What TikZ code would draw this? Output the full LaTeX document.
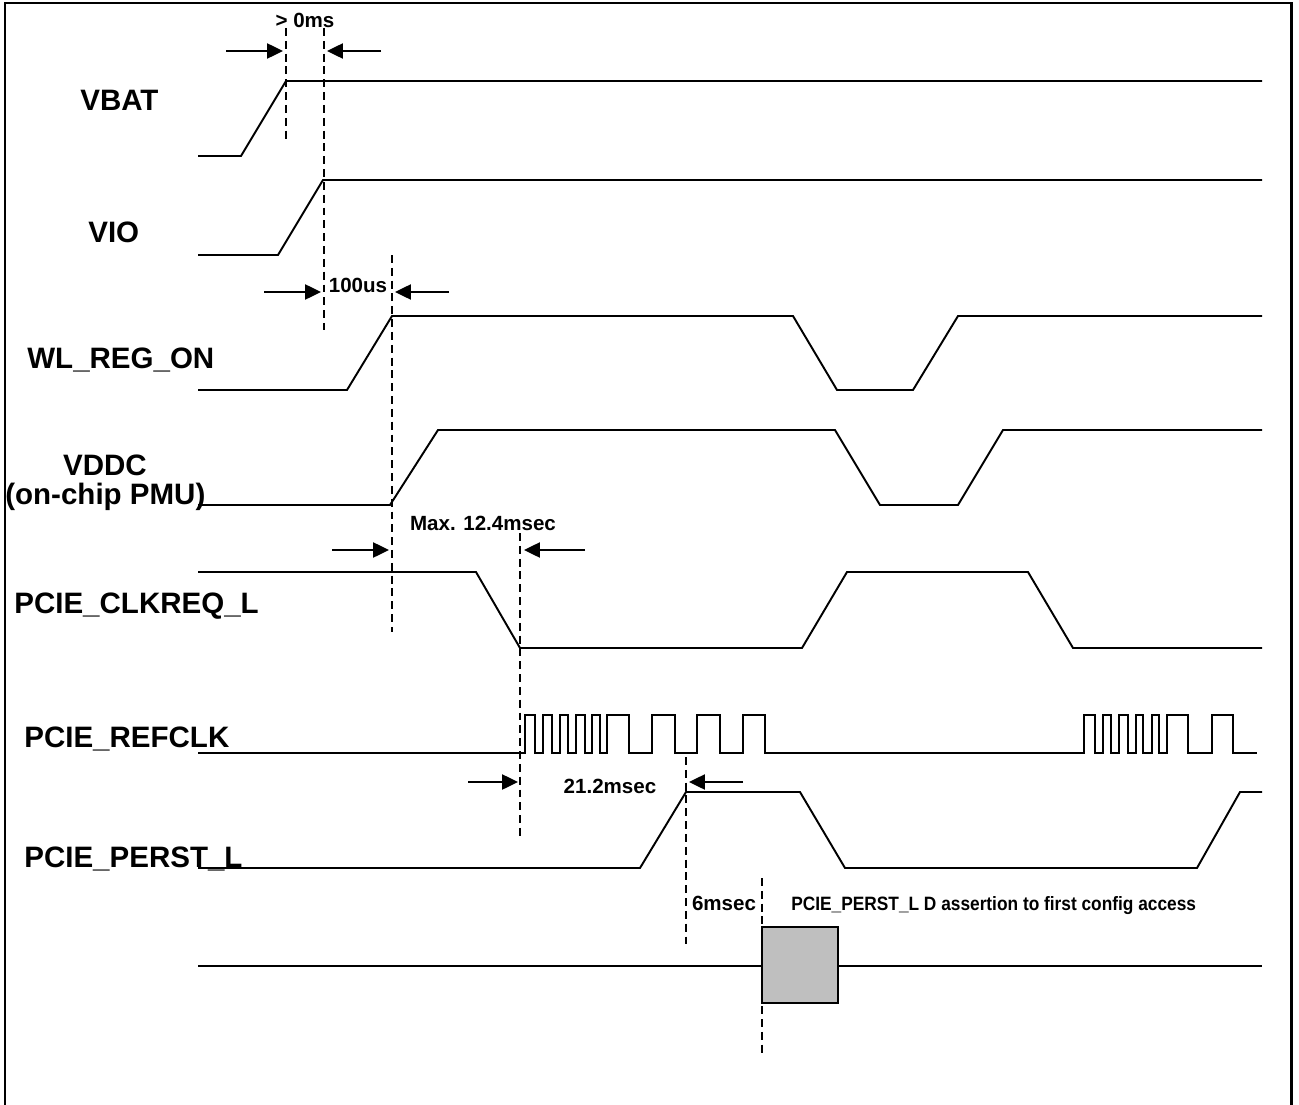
\documentclass[tikz,border=0pt]{standalone}
\usepackage{fontspec}
\setmainfont{Liberation Sans}
\newfontfamily\narrowfont[FakeStretch=0.895]{Liberation Sans}
\usetikzlibrary{arrows.meta,calc}
\definecolor{BoxClr}{rgb}{0.75,0.75,0.75}

\begin{document}
\begin{tikzpicture}[x=0.02cm,y=-0.02cm,
  sig/.style={line width=1.1pt,line join=miter},
  guide/.style={line width=1pt,dash pattern=on 4.5pt off 2.8pt},
  tarrow/.style={line width=1.2pt,-{Triangle[length=9pt,width=8.5pt]}},
  lbl/.style={font=\fontsize{16.8}{18}\selectfont\bfseries,anchor=base west,inner sep=0pt},
  tim/.style={font=\fontsize{11.7}{13}\selectfont\bfseries,anchor=base,inner sep=0pt}]
\useasboundingbox (0,0) rectangle (1299,1105);
\draw[line width=1.7pt] (5,1105) -- (5,3) -- (1291,3) -- (1291,1105);

% signal names
\node[lbl] (vbat) at (80,111) {VBAT};
\node[lbl] (vio) at (88,242) {VIO};
\node[lbl] (wlreg) at (27,368) {WL\_REG\_ON};
\node[lbl,anchor=base] (vddc) at (105,475) {VDDC};
\node[lbl] (pmu) at (5,504) {(on-chip PMU)};
\node[lbl] (clkreq) at (14,613) {PCIE\_CLKREQ\_L};
\node[lbl] (refclk) at (24,747) {PCIE\_REFCLK};
\node[lbl] (perst) at (24,867) {PCIE\_PERST\_L};

% waveforms
\draw[sig] (198,156) -- (241,156) -- (286,81) -- (1262,81);
\draw[sig] (198,255) -- (278,255) -- (323,180) -- (1262,180);
\draw[sig] (198,390) -- (347,390) -- (392,316) -- (793,316) -- (837,390)
  -- (913,390) -- (958,316) -- (1262,316);
\draw[sig] (198,505) -- (390,505) -- (438,430) -- (835,430) -- (880,505)
  -- (958,505) -- (1003,430) -- (1262,430);
\draw[sig] (198,572) -- (476,572) -- (520,648) -- (802,648) -- (847,572)
  -- (1028,572) -- (1073,648) -- (1262,648);
\draw[sig] (198,753)
  foreach \a/\b in {525/535,543/552,560/568,576/585,592/600,607/629,652/675,697/720,743/765,
                    1084/1095,1103/1111,1119/1128,1136/1143,1152/1159,1167/1188,1212/1233}
  {-- (\a,753) -- (\a,715) -- (\b,715) -- (\b,753)} -- (1257,753);
\draw[sig] (198,868) -- (640,868) -- (686,792) -- (800,792) -- (845,868)
  -- (1197,868) -- (1240,792) -- (1262,792);
\draw[sig] (198,966) -- (1262,966);
\draw[sig,fill=BoxClr] (762,927) rectangle (838,1003);

% timing marks
\draw[guide] (286,28) -- (286,141);
\draw[guide] (324,28) -- (324,330);
\draw[guide] (392,255) -- (392,632);
\draw[guide] (520,533) -- (520,837);
\draw[guide] (686,757) -- (686,945);
\draw[guide] (762,878) -- (762,1057);

\coordinate (a1) at (226,51);  \coordinate (a2) at (283,51);
\coordinate (a3) at (381,51);  \coordinate (a4) at (327,51);
\coordinate (b1) at (264,292); \coordinate (b2) at (321,292);
\coordinate (b3) at (449,292); \coordinate (b4) at (395,292);
\coordinate (c1) at (332,550); \coordinate (c2) at (389,550);
\coordinate (c3) at (585,550); \coordinate (c4) at (524,550);
\coordinate (e1) at (468,782); \coordinate (e2) at (518,782);
\coordinate (e3) at (743,782); \coordinate (e4) at (689,782);
\draw[tarrow] (a1) -- (a2);
\draw[tarrow] (a3) -- (a4);
\draw[tarrow] (b1) -- (b2);
\draw[tarrow] (b3) -- (b4);
\draw[tarrow] (c1) -- (c2);
\draw[tarrow] (c3) -- (c4);
\draw[tarrow] (e1) -- (e2);
\draw[tarrow] (e3) -- (e4);

\node[tim] (t0ms) at (305,28) {> 0ms};
\node[tim] (t100us) at (358,292) {100us};
\node[tim] (tmax) at (483,530) {Max. 12.4msec};
\node[tim] (t21) at (610,793) {21.2msec};
\node[tim] (t6) at (724,910) {6msec};
\node[anchor=base west,inner sep=0pt,font=\narrowfont\fontsize{11}{12}\selectfont\bfseries]
  (tcfg) at (791,910) {PCIE\_PERST\_L D assertion to first config access};
\end{tikzpicture}
\end{document}
